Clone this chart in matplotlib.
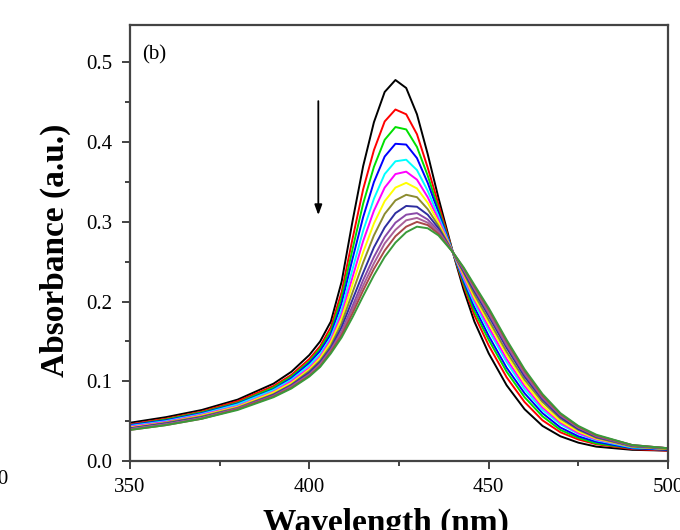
import matplotlib.pyplot as plt
from matplotlib.ticker import MultipleLocator, FormatStrFormatter

wavelength = [350, 360, 370, 380, 390, 395, 400, 403, 406, 409, 412, 415, 418, 421, 424,
              427, 430, 433, 436, 440, 443, 446, 450, 455, 460, 465, 470, 475, 480, 490, 500]

# absorbance spectra, first scan (black) to last scan (green)
abs_00 = [0.048, 0.055, 0.064, 0.077, 0.097, 0.112, 0.133, 0.150, 0.175, 0.225, 0.300, 0.370, 0.425, 0.463, 0.478,
          0.468, 0.435, 0.385, 0.330, 0.262, 0.215, 0.175, 0.135, 0.095, 0.065, 0.044, 0.031, 0.023, 0.018, 0.014, 0.013]
abs_01 = [0.046, 0.053, 0.062, 0.075, 0.094, 0.108, 0.128, 0.144, 0.168, 0.212, 0.278, 0.341, 0.390, 0.426, 0.441,
          0.435, 0.410, 0.368, 0.322, 0.262, 0.220, 0.183, 0.145, 0.105, 0.074, 0.051, 0.036, 0.027, 0.021, 0.015, 0.013]
abs_02 = [0.045, 0.052, 0.061, 0.073, 0.092, 0.106, 0.125, 0.141, 0.163, 0.205, 0.265, 0.323, 0.369, 0.403, 0.419,
          0.416, 0.394, 0.358, 0.316, 0.262, 0.223, 0.188, 0.152, 0.112, 0.080, 0.056, 0.039, 0.029, 0.022, 0.016, 0.014]
abs_03 = [0.045, 0.051, 0.060, 0.072, 0.090, 0.104, 0.123, 0.138, 0.159, 0.198, 0.253, 0.306, 0.350, 0.382, 0.398,
          0.397, 0.380, 0.349, 0.312, 0.262, 0.226, 0.193, 0.157, 0.117, 0.085, 0.060, 0.042, 0.031, 0.024, 0.016, 0.014]
abs_04 = [0.044, 0.050, 0.059, 0.071, 0.089, 0.102, 0.120, 0.134, 0.155, 0.190, 0.240, 0.289, 0.329, 0.360, 0.376,
          0.378, 0.365, 0.339, 0.307, 0.262, 0.229, 0.198, 0.164, 0.124, 0.090, 0.064, 0.046, 0.034, 0.026, 0.017, 0.015]
abs_05 = [0.043, 0.049, 0.058, 0.069, 0.087, 0.100, 0.117, 0.131, 0.152, 0.184, 0.230, 0.276, 0.314, 0.343, 0.360,
          0.363, 0.353, 0.331, 0.303, 0.262, 0.231, 0.202, 0.168, 0.128, 0.094, 0.067, 0.048, 0.035, 0.027, 0.018, 0.015]
abs_06 = [0.042, 0.048, 0.057, 0.068, 0.086, 0.098, 0.115, 0.129, 0.149, 0.179, 0.221, 0.262, 0.298, 0.326, 0.343,
          0.349, 0.342, 0.324, 0.299, 0.262, 0.234, 0.205, 0.173, 0.133, 0.098, 0.070, 0.050, 0.037, 0.028, 0.018, 0.015]
abs_07 = [0.041, 0.048, 0.056, 0.067, 0.084, 0.096, 0.113, 0.126, 0.145, 0.173, 0.211, 0.249, 0.283, 0.310, 0.327,
          0.334, 0.331, 0.316, 0.295, 0.262, 0.236, 0.209, 0.177, 0.137, 0.102, 0.074, 0.053, 0.039, 0.029, 0.018, 0.015]
abs_08 = [0.041, 0.047, 0.055, 0.066, 0.083, 0.095, 0.111, 0.124, 0.142, 0.168, 0.202, 0.236, 0.268, 0.293, 0.311,
          0.320, 0.319, 0.309, 0.292, 0.262, 0.238, 0.213, 0.182, 0.142, 0.106, 0.077, 0.055, 0.040, 0.030, 0.019, 0.016]
abs_09 = [0.040, 0.046, 0.054, 0.066, 0.082, 0.094, 0.109, 0.122, 0.140, 0.163, 0.194, 0.227, 0.256, 0.281, 0.299,
          0.309, 0.311, 0.303, 0.289, 0.262, 0.240, 0.216, 0.185, 0.145, 0.109, 0.079, 0.057, 0.042, 0.031, 0.019, 0.016]
abs_10 = [0.040, 0.046, 0.054, 0.065, 0.081, 0.093, 0.108, 0.121, 0.138, 0.161, 0.190, 0.220, 0.248, 0.273, 0.290,
          0.302, 0.305, 0.299, 0.287, 0.262, 0.241, 0.217, 0.187, 0.147, 0.111, 0.081, 0.058, 0.042, 0.032, 0.020, 0.016]
abs_11 = [0.039, 0.045, 0.053, 0.065, 0.081, 0.092, 0.107, 0.119, 0.137, 0.158, 0.185, 0.214, 0.241, 0.264, 0.282,
          0.294, 0.300, 0.296, 0.285, 0.262, 0.242, 0.219, 0.190, 0.150, 0.113, 0.082, 0.059, 0.043, 0.032, 0.020, 0.016]
abs_12 = [0.039, 0.045, 0.053, 0.064, 0.080, 0.091, 0.106, 0.118, 0.135, 0.155, 0.180, 0.207, 0.233, 0.256, 0.274,
          0.287, 0.294, 0.292, 0.283, 0.262, 0.243, 0.221, 0.192, 0.152, 0.115, 0.084, 0.060, 0.044, 0.033, 0.020, 0.016]

spectra = [abs_00, abs_01, abs_02, abs_03, abs_04, abs_05, abs_06,
           abs_07, abs_08, abs_09, abs_10, abs_11, abs_12]
colors = ["#000000", "#ff0000", "#00e000", "#0000ff", "#00ffff", "#ff00ff", "#ffff00",
          "#8c8c30", "#2e2ea0", "#8a4aa8", "#a8609a", "#a84848", "#3a9a3a"]

plt.rcParams["font.family"] = "Liberation Serif"

fig = plt.figure(figsize=(6.8, 5.3), dpi=100)
ax = fig.add_axes([0.1912, 0.1302, 0.7912, 0.8226])

for y, c in zip(spectra, colors):
    ax.plot(wavelength, y, color=c, lw=1.4)

ax.set_xlim(350, 500)
ax.set_ylim(0, 0.547)
ax.xaxis.set_major_locator(MultipleLocator(50))
ax.xaxis.set_minor_locator(MultipleLocator(25))
ax.yaxis.set_major_locator(MultipleLocator(0.1))
ax.yaxis.set_minor_locator(MultipleLocator(0.05))
ax.yaxis.set_major_formatter(FormatStrFormatter("%.1f"))
ax.tick_params(which="major", direction="out", length=6, width=1.3, labelsize=15, pad=7, color="#333333")
ax.tick_params(which="minor", direction="out", length=3.5, width=1.3, color="#333333")
ax.tick_params(axis="x", pad=6)
for s in ax.spines.values():
    s.set_linewidth(1.6)
    s.set_color("#444444")

ax.text(0.022, 0.954, "(b)", transform=ax.transAxes, fontsize=15, va="top", ha="left")
ax.annotate("", xy=(402.5, 0.305), xytext=(402.5, 0.455),
            arrowprops=dict(arrowstyle="-|>,head_length=0.6,head_width=0.22", color="black", lw=1.3))

fig.text(0.081, 0.528, "Absorbance (a.u.)", rotation=90, fontsize=24, fontweight="bold",
         ha="center", va="center")
fig.text(0.568, -0.004, "Wavelength (nm)", fontsize=24, fontweight="bold", ha="center", va="baseline")
# cut-off tick label of the neighbouring panel
fig.text(9 / 680, 1 - 480 / 530, "500", fontsize=15, ha="right", va="center")

fig.savefig("out.png", dpi=100)
